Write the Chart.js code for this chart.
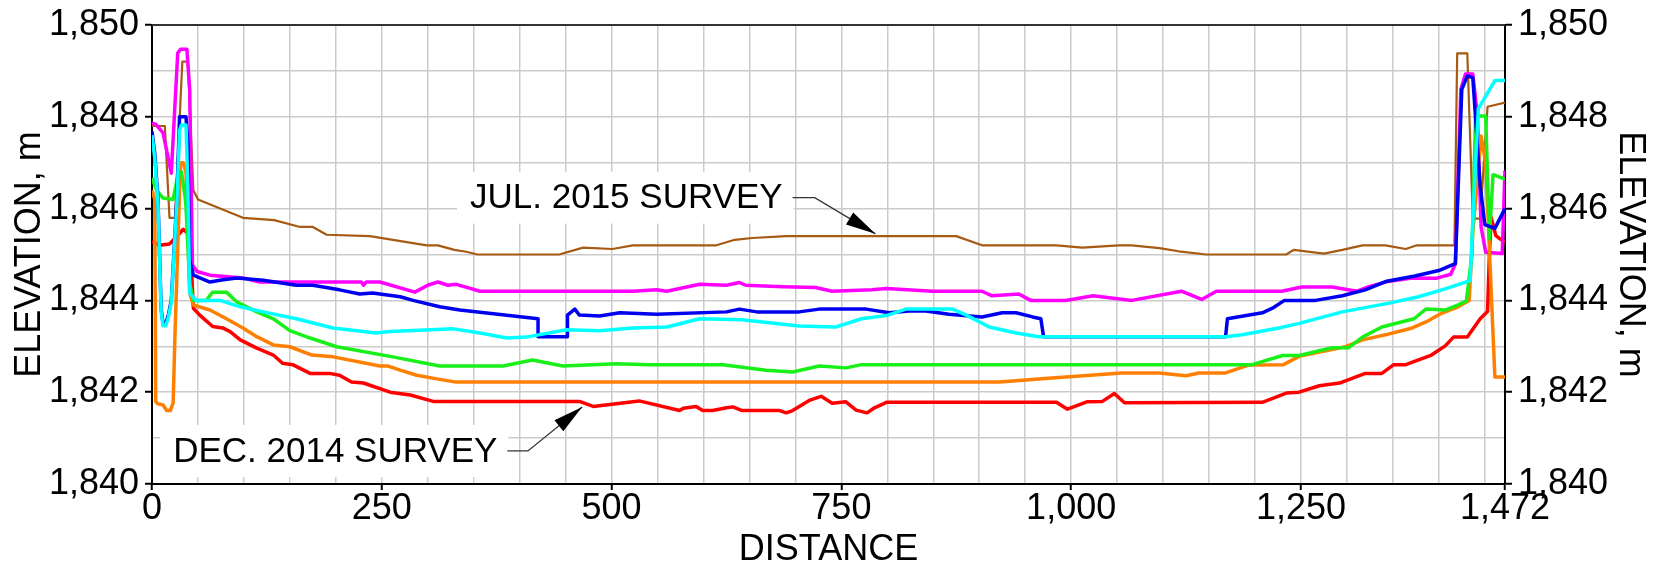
<!DOCTYPE html>
<html>
<head>
<meta charset="utf-8">
<script src="https://cdn.jsdelivr.net/npm/chart.js@4"></script>
<style>
  html, body { margin: 0; padding: 0; background: #fff; }
  #wrap { width: 1656px; height: 568px; }
</style>
</head>
<body>
<div id="wrap"><canvas id="profile" width="1656" height="568"></canvas></div>
<script>
// survey profiles, [distance, elevation]
const jul2015 = [[0,1847.8],[14,1847.8],[19,1845.8],[25,1845.8],[33,1849.2],[39,1849.2],[45,1846.4],[50,1846.2],[99,1845.8],[133,1845.75],[161,1845.6],[175,1845.6],[190,1845.43],[237,1845.4],[299,1845.2],[311,1845.2],[329,1845.1],[342,1845.06],[354,1845.0],[443,1845.0],[469,1845.15],[501,1845.12],[523,1845.2],[614,1845.2],[634,1845.32],[653,1845.36],[690,1845.4],[875,1845.4],[903,1845.2],[984,1845.2],[1012,1845.15],[1052,1845.2],[1066,1845.2],[1096,1845.14],[1117,1845.07],[1147,1845.0],[1234,1845.0],[1242,1845.1],[1275,1845.02],[1295,1845.1],[1317,1845.2],[1342,1845.2],[1364,1845.12],[1376,1845.2],[1417,1845.2],[1420,1849.38],[1431,1849.38],[1437,1845.78],[1445,1845.78],[1453,1848.22],[1472,1848.31]];
const magenta = [[0,1847.86],[4,1847.84],[12,1847.65],[21,1846.77],[28,1849.39],[31,1849.47],[38,1849.47],[41,1848.6],[44,1844.77],[49,1844.63],[63,1844.55],[99,1844.49],[117,1844.4],[228,1844.4],[230,1844.33],[233,1844.4],[248,1844.4],[286,1844.18],[300,1844.33],[311,1844.4],[322,1844.33],[331,1844.35],[357,1844.2],[523,1844.2],[549,1844.23],[560,1844.2],[596,1844.35],[625,1844.33],[639,1844.39],[646,1844.33],[686,1844.3],[722,1844.28],[740,1844.2],[783,1844.23],[799,1844.26],[849,1844.2],[903,1844.2],[914,1844.1],[943,1844.14],[956,1844.0],[994,1844.0],[1024,1844.1],[1066,1844.0],[1120,1844.2],[1142,1844.02],[1158,1844.2],[1229,1844.2],[1251,1844.29],[1284,1844.29],[1311,1844.2],[1324,1844.3],[1344,1844.41],[1371,1844.49],[1397,1844.48],[1413,1844.57],[1418,1844.8],[1424,1848.6],[1429,1848.93],[1437,1848.93],[1442,1848.0],[1446,1845.6],[1451,1845.05],[1469,1845.02],[1472,1846.83]];
const blue = [[0,1847.68],[3,1847.2],[6.5,1846.2],[10,1843.8],[12,1843.5],[15,1843.5],[18,1843.7],[21,1844.0],[27,1846.2],[30,1848.0],[37,1848.0],[39,1847.4],[41,1844.88],[45,1844.55],[63,1844.4],[74,1844.44],[92,1844.49],[121,1844.44],[157,1844.33],[175,1844.33],[204,1844.23],[226,1844.14],[240,1844.16],[270,1844.08],[284,1844.0],[313,1843.86],[335,1843.79],[420,1843.6],[420,1843.21],[452,1843.21],[452,1843.68],[460,1843.81],[465,1843.68],[487,1843.66],[509,1843.73],[549,1843.7],[625,1843.75],[639,1843.81],[658,1843.75],[704,1843.75],[726,1843.81],[777,1843.81],[802,1843.73],[824,1843.77],[842,1843.77],[867,1843.7],[903,1843.64],[925,1843.73],[940,1843.73],[958,1843.64],[967,1843.6],[970,1843.21],[1168,1843.21],[1170,1843.6],[1208,1843.73],[1219,1843.83],[1232,1844.0],[1266,1844.0],[1295,1844.1],[1320,1844.23],[1342,1844.41],[1374,1844.53],[1400,1844.65],[1414,1844.77],[1418,1844.8],[1425,1848.6],[1431,1848.89],[1437,1848.85],[1445,1846.5],[1450,1845.65],[1461,1845.57],[1472,1846.0]];
const cyan = [[0,1847.6],[3,1847.1],[6.5,1846.1],[10,1843.75],[12,1843.45],[15,1843.45],[18,1843.65],[21,1843.95],[27,1846.1],[30,1847.7],[32,1847.82],[37,1847.82],[39,1846.5],[41,1844.16],[48,1844.0],[74,1844.0],[96,1843.86],[121,1843.75],[157,1843.6],[197,1843.4],[244,1843.29],[259,1843.32],[328,1843.38],[357,1843.29],[386,1843.18],[407,1843.2],[451,1843.36],[487,1843.34],[523,1843.4],[560,1843.42],[596,1843.6],[642,1843.58],[704,1843.44],[744,1843.42],[772,1843.6],[799,1843.67],[820,1843.81],[871,1843.81],[886,1843.68],[911,1843.42],[940,1843.29],[965,1843.21],[1168,1843.21],[1186,1843.25],[1226,1843.4],[1248,1843.5],[1295,1843.75],[1346,1843.94],[1378,1844.08],[1407,1844.25],[1434,1844.43],[1440,1847.0],[1443,1848.18],[1461,1848.79],[1472,1848.79]];
const green = [[0,1846.67],[5,1846.4],[12,1846.23],[23,1846.2],[28,1846.7],[32,1846.8],[36,1846.26],[37,1846.04],[41,1844.37],[45,1844.0],[59,1844.0],[66,1844.18],[81,1844.18],[92,1843.97],[114,1843.75],[132,1843.6],[150,1843.34],[172,1843.18],[201,1842.99],[262,1842.77],[313,1842.57],[382,1842.57],[414,1842.7],[447,1842.57],[505,1842.62],[541,1842.6],[621,1842.6],[668,1842.48],[697,1842.44],[726,1842.57],[755,1842.53],[772,1842.6],[1197,1842.6],[1230,1842.8],[1248,1842.8],[1284,1842.97],[1302,1842.97],[1317,1843.2],[1338,1843.42],[1373,1843.6],[1386,1843.81],[1407,1843.79],[1421,1843.9],[1430,1843.99],[1436,1845.0],[1440,1848.02],[1451,1848.02],[1455,1845.34],[1459,1846.74],[1472,1846.64]];
const orange = [[0,1846.4],[3,1846.2],[4,1841.8],[6,1841.75],[12,1841.72],[16,1841.6],[20,1841.6],[23,1841.77],[25,1843.25],[31,1847.0],[34,1847.0],[37,1846.78],[41,1844.16],[45,1843.9],[63,1843.79],[81,1843.6],[99,1843.4],[114,1843.21],[132,1843.03],[150,1842.99],[174,1842.81],[197,1842.77],[248,1842.57],[257,1842.57],[270,1842.48],[288,1842.37],[313,1842.28],[331,1842.22],[922,1842.22],[979,1842.31],[1055,1842.42],[1096,1842.42],[1125,1842.36],[1139,1842.42],[1168,1842.42],[1193,1842.59],[1231,1842.6],[1248,1842.78],[1298,1842.99],[1317,1843.14],[1342,1843.25],[1371,1843.4],[1386,1843.53],[1403,1843.72],[1421,1843.86],[1433,1844.0],[1437,1845.5],[1446,1847.58],[1451,1847.0],[1461,1842.33],[1472,1842.33]];
const dec2014 = [[0,1845.28],[8,1845.2],[19,1845.23],[27,1845.39],[34,1845.55],[39,1845.46],[43,1844.66],[45,1843.83],[52,1843.68],[66,1843.43],[77,1843.4],[85,1843.32],[96,1843.14],[114,1842.96],[132,1842.81],[142,1842.63],[153,1842.6],[172,1842.41],[193,1842.41],[204,1842.37],[217,1842.22],[230,1842.2],[259,1842.0],[281,1841.94],[306,1841.8],[465,1841.8],[480,1841.69],[530,1841.81],[574,1841.6],[578,1841.65],[592,1841.69],[599,1841.6],[610,1841.6],[625,1841.66],[632,1841.68],[642,1841.6],[683,1841.6],[690,1841.55],[697,1841.6],[715,1841.82],[728,1841.91],[740,1841.76],[755,1841.79],[766,1841.61],[778,1841.55],[786,1841.66],[799,1841.78],[984,1841.78],[996,1841.63],[1017,1841.79],[1034,1841.8],[1047,1841.97],[1058,1841.77],[1208,1841.78],[1234,1841.98],[1248,1842.0],[1270,1842.14],[1292,1842.2],[1320,1842.41],[1338,1842.41],[1351,1842.6],[1364,1842.6],[1392,1842.81],[1407,1843.01],[1416,1843.2],[1431,1843.2],[1445,1843.6],[1453,1843.76],[1455,1845.0],[1457,1845.81],[1462,1845.41],[1472,1845.26]];

const xLabels = [0, 250, 500, 750, 1000, 1250, 1472];
const xGridStep = 50;
const yMin = 1840, yMax = 1850;

const notes = [
  { text: 'JUL. 2015 SURVEY', at: [346, 1846.24], bend: [721, 1846.24], tip: [787, 1845.45] },
  { text: 'DEC. 2014 SURVEY', at: [23, 1840.72], bend: [409, 1840.72], tip: [468, 1841.68] }
];

const FONT = '"Liberation Sans", Arial, sans-serif';
const fmt = v => Number(v).toLocaleString('en-US');

function series(pairs, color, width) {
  return {
    data: pairs.map(p => ({ x: p[0], y: p[1] })),
    borderColor: color,
    borderWidth: width,
    pointRadius: 0,
    tension: 0,
    fill: false,
    borderJoinStyle: 'round'
  };
}

const notePlugin = {
  id: 'notes',
  beforeDraw(chart) {
    const c = chart.ctx;
    c.save();
    c.fillStyle = '#fff';
    c.fillRect(0, 0, chart.width, chart.height);
    c.restore();
  },
  beforeDatasetsDraw(chart) {
    const c = chart.ctx, xs = chart.scales.x, ys = chart.scales.y;
    c.save();
    c.font = '35px ' + FONT;
    c.textBaseline = 'middle';
    notes.forEach(n => {
      const tx = xs.getPixelForValue(n.at[0]);
      const ty = ys.getPixelForValue(n.at[1]);
      const w = c.measureText(n.text).width;
      c.fillStyle = '#fff';
      c.fillRect(tx - 13, ty - 26, w + 24, 52);
      c.fillStyle = '#000';
      c.fillText(n.text, tx, ty + 1);
      // leader with arrow
      const bx = xs.getPixelForValue(n.bend[0]), by = ys.getPixelForValue(n.bend[1]);
      const px = xs.getPixelForValue(n.tip[0]), py = ys.getPixelForValue(n.tip[1]);
      c.strokeStyle = '#333';
      c.lineWidth = 1.3;
      c.beginPath();
      c.moveTo(tx + w + 10, by);
      c.lineTo(bx, by);
      c.lineTo(px, py);
      c.stroke();
      const a = Math.atan2(py - by, px - bx);
      const L = 30, H = 7;
      c.fillStyle = '#000';
      c.beginPath();
      c.moveTo(px, py);
      c.lineTo(px - L * Math.cos(a) + H * Math.sin(a), py - L * Math.sin(a) - H * Math.cos(a));
      c.lineTo(px - L * Math.cos(a) - H * Math.sin(a), py - L * Math.sin(a) + H * Math.cos(a));
      c.closePath();
      c.fill();
    });
    c.restore();
  },
  afterDraw(chart) {
    const c = chart.ctx, a = chart.chartArea;
    c.save();
    c.strokeStyle = '#333';
    c.lineWidth = 2;
    c.beginPath();
    c.moveTo(a.left, a.top);
    c.lineTo(a.right, a.top);
    c.stroke();
    c.restore();
  }
};

const evenTick = ctx => (ctx.tick && ctx.tick.value % 2 === 0) ? '#000' : 'rgba(0,0,0,0)';

const yAxis = (pos, width, titlePad) => ({
  type: 'linear',
  position: pos,
  min: yMin,
  max: yMax,
  afterFit(s) { s.width = width; },
  ticks: {
    stepSize: 1,
    autoSkip: false,
    padding: 6,
    color: '#000',
    font: { family: FONT, size: 36, lineHeight: 1 },
    callback: v => (v % 2 === 0 ? fmt(v) : '')
  },
  grid: {
    drawOnChartArea: pos === 'left',
    color: '#cbcbcb',
    lineWidth: 1.5,
    tickLength: 7,
    tickColor: evenTick,
    tickWidth: 2
  },
  border: { color: '#000', width: 2 },
  title: {
    display: true,
    text: 'ELEVATION, m',
    color: '#000',
    font: { family: FONT, size: 36, lineHeight: 1 },
    padding: { top: titlePad, bottom: 0 }
  }
});

new Chart(document.getElementById('profile'), {
  type: 'line',
  data: {
    datasets: [
      series(cyan, '#00ffff', 3.5),
      series(blue, '#0000f0', 3.5),
      series(green, '#19f019', 3.5),
      series(orange, '#ff8000', 3.5),
      series(magenta, '#ff00ff', 3.5),
      series(jul2015, '#a65a12', 2.2),
      series(dec2014, '#ff0000', 3.5)
    ]
  },
  options: {
    responsive: false,
    animation: false,
    devicePixelRatio: 1,
    layout: { padding: { top: 25, left: 0, right: 0, bottom: 0 } },
    plugins: { legend: { display: false }, tooltip: { enabled: false } },
    scales: {
      x: {
        type: 'linear',
        min: 0,
        max: 1472,
        afterFit(s) { s.height = 84; },
        afterBuildTicks(s) {
          const t = [];
          for (let v = 0; v < 1472; v += xGridStep) t.push({ value: v });
          t.push({ value: 1472 });
          s.ticks = t;
        },
        ticks: {
          autoSkip: false,
          maxRotation: 0,
          padding: 1,
          color: '#000',
          font: { family: FONT, size: 36, lineHeight: 1 },
          callback: v => (xLabels.includes(v) ? fmt(v) : '')
        },
        grid: {
          color: '#cbcbcb',
          lineWidth: 1.5,
          tickLength: 6,
          tickColor: ctx => (ctx.tick && xLabels.includes(ctx.tick.value)) ? '#000' : 'rgba(0,0,0,0)',
          tickWidth: 2
        },
        border: { color: '#000', width: 2 },
        title: {
          display: true,
          text: 'DISTANCE',
          color: '#000',
          font: { family: FONT, size: 36, lineHeight: 1 },
          padding: { top: 0, bottom: 0 }
        }
      },
      y: yAxis('left', 152, 12),
      y2: yAxis('right', 151, 8)
    }
  },
  plugins: [notePlugin]
});
</script>
</body>
</html>
